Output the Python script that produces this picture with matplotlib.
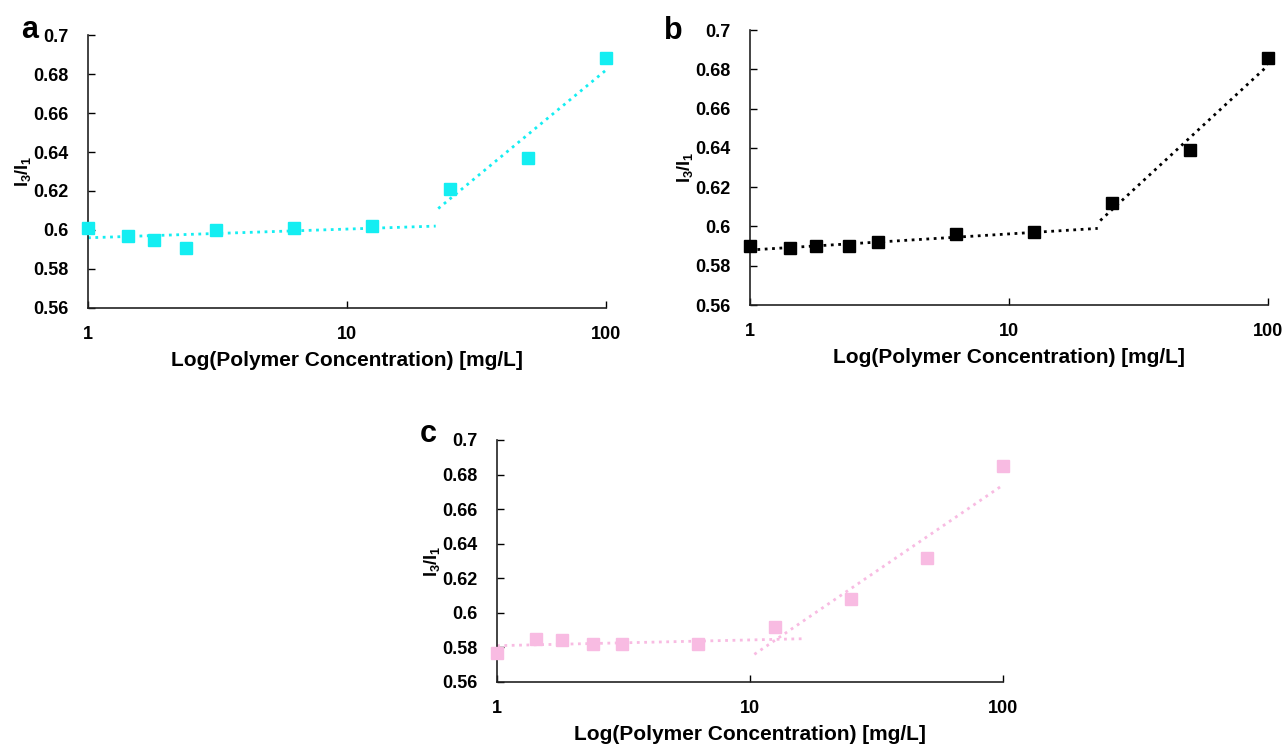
import matplotlib
matplotlib.use('Agg')
import matplotlib.pyplot as plt
from matplotlib.ticker import FixedLocator, FixedFormatter, NullLocator

plt.rcParams['font.family'] = ['Liberation Sans', 'DejaVu Sans']
plt.rcParams['font.weight'] = 'bold'
plt.rcParams['mathtext.fontset'] = 'custom'
plt.rcParams['mathtext.rm'] = 'Liberation Sans:bold'
plt.rcParams['mathtext.it'] = 'Liberation Sans:bold'
plt.rcParams['mathtext.bf'] = 'Liberation Sans:bold'

# concentrations (mg/L)
conc = [1, 1.43, 1.8, 2.4, 3.13, 6.25, 12.5, 25, 50, 100]

# I3/I1 ratios per panel
ratio_a = [0.601, 0.597, 0.595, 0.591, 0.600, 0.601, 0.602, 0.621, 0.637, 0.688]
ratio_b = [0.590, 0.589, 0.590, 0.590, 0.592, 0.596, 0.597, 0.612, 0.639, 0.686]
ratio_c = [0.577, 0.585, 0.584, 0.582, 0.582, 0.582, 0.592, 0.608, 0.632, 0.685]

# trendline end points (x pair, y pair) for low and high regimes
low_x_a, low_y_a = [1, 22], [0.596, 0.602]
high_x_a, high_y_a = [22.5, 100], [0.611, 0.682]
low_x_b, low_y_b = [1, 22], [0.588, 0.599]
high_x_b, high_y_b = [22.5, 100], [0.603, 0.682]
low_x_c, low_y_c = [1, 16], [0.581, 0.585]
high_x_c, high_y_c = [10.4, 100], [0.576, 0.674]

y_ticks = [0.56, 0.58, 0.6, 0.62, 0.64, 0.66, 0.68, 0.7]
y_tick_labels = ['0.56', '0.58', '0.6', '0.62', '0.64', '0.66', '0.68', '0.7']
x_ticks = [1, 10, 100]
x_tick_labels = ['1', '10', '100']

colors = {'a': '#14EEF2', 'b': '#000000', 'c': '#F8BBE2'}

fig = plt.figure(figsize=(12.85, 7.45), dpi=100)

# name, axes rect, letter position (figure fraction), data
panels = [
    ('a', [0.0685, 0.5866, 0.4031, 0.3664], (0.023, 0.96), ratio_a, (low_x_a, low_y_a), (high_x_a, high_y_a)),
    ('b', [0.5837, 0.5906, 0.4031, 0.3691], (0.524, 0.959), ratio_b, (low_x_b, low_y_b), (high_x_b, high_y_b)),
    ('c', [0.3868, 0.0846, 0.3938, 0.3248], (0.333, 0.418), ratio_c, (low_x_c, low_y_c), (high_x_c, high_y_c)),
]

for name, rect, letter_pos, ratio, low, high in panels:
    ax = fig.add_axes(rect)
    col = colors[name]
    ax.set_xscale('log')
    ax.plot(low[0], low[1], linestyle=':', color=col, linewidth=2, zorder=2)
    ax.plot(high[0], high[1], linestyle=':', color=col, linewidth=2, zorder=2)
    ax.plot(conc, ratio, linestyle='none', marker='s', markersize=8,
            color=col, zorder=3, clip_on=False)
    ax.set_xlim(1, 100)
    ax.set_ylim(0.56, 0.7)
    ax.xaxis.set_major_locator(FixedLocator(x_ticks))
    ax.xaxis.set_major_formatter(FixedFormatter(x_tick_labels))
    ax.xaxis.set_minor_locator(NullLocator())
    ax.yaxis.set_major_locator(FixedLocator(y_ticks))
    ax.yaxis.set_major_formatter(FixedFormatter(y_tick_labels))
    ax.tick_params(axis='both', direction='in', length=5, width=1, labelsize=13)
    ax.tick_params(axis='x', pad=13)
    ax.tick_params(axis='y', pad=14)
    for s in ['top', 'right']:
        ax.spines[s].set_visible(False)
    for s in ['left', 'bottom']:
        ax.spines[s].set_linewidth(1.2)
        ax.spines[s].set_color('#222222')
    ax.set_xlabel('Log(Polymer Concentration) [mg/L]', fontsize=15, fontweight='bold', labelpad=6)
    ax.set_ylabel(r'$\mathrm{I_3/I_1}$', fontsize=13, labelpad=0)
    fig.text(letter_pos[0], letter_pos[1], name, fontsize=22, fontweight='bold',
             ha='center', va='center')

fig.savefig('out.png', dpi=100)
